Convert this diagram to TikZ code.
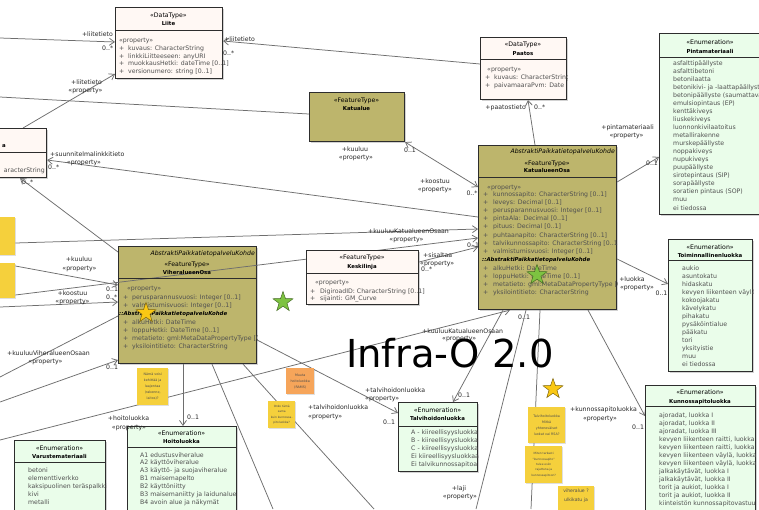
\documentclass[tikz,border=0pt]{standalone}
\usepackage{fontspec}
\setmainfont{DejaVu Sans}
\usetikzlibrary{arrows.meta,shapes.geometric,shadows,calc}
\pgfdeclarelayer{back}
\pgfdeclarelayer{bg}
\pgfsetlayers{back,bg,main}
\definecolor{boxline}{RGB}{45,45,45}
\definecolor{dtfill}{RGB}{255,248,244}
\definecolor{olivefill}{RGB}{189,181,108}
\definecolor{enumfill}{RGB}{234,253,234}
\definecolor{linegray}{RGB}{110,110,110}
\definecolor{noteyellow}{RGB}{245,208,60}
\definecolor{noteorange}{RGB}{246,165,90}
\definecolor{attrgray}{RGB}{80,80,80}
\definecolor{staryellow}{RGB}{250,200,20}
\definecolor{stargreen}{RGB}{125,195,65}
\newcommand{\enumitems}[5]{\foreach \t [count=\i from 0] in {#5} {\node[attr] (#1\i) at (#2,#3+#4*\i) {\t};}}
\tikzset{
 umlbox/.style={draw=boxline, line width=1.1pt, anchor=north west, inner sep=0pt, drop shadow={shadow xshift=1.3pt, shadow yshift=-1.3pt, opacity=0.35}},
 dtbox/.style={umlbox, fill=dtfill},
 ftbox/.style={umlbox, fill=olivefill},
 enbox/.style={umlbox, fill=enumfill},
 divider/.style={draw=boxline, line width=0.8pt},
 sttext/.style={font=\fontsize{6.2}{7}\selectfont, inner sep=0pt, anchor=base, text=black},
 nmtext/.style={font=\fontsize{5.4}{7}\selectfont\bfseries, inner sep=0pt, anchor=base, text=black},
 attr/.style={font=\fontsize{6.2}{7}\selectfont, inner sep=0pt, anchor=base west, text=attrgray},
 attrhead/.style={font=\fontsize{5.4}{7}\selectfont\bfseries\itshape, inner sep=0pt, anchor=base west, text=black},
 abstr/.style={font=\fontsize{6.2}{7}\selectfont\itshape, inner sep=0pt, anchor=base east, text=black},
 conn/.style={draw=linegray, line width=0.75pt},
 arr/.style={arrows={-Straight Barb[length=5pt,width=7pt]}},
 biarr/.style={arrows={Straight Barb[length=5pt,width=7pt]-Straight Barb[length=5pt,width=7pt]}},
 lbl/.style={font=\fontsize{6.2}{7}\selectfont, inner sep=0pt, anchor=base, text=black!85},
 notebox/.style={anchor=north west, inner sep=0pt, drop shadow={shadow xshift=1pt, shadow yshift=-1pt, opacity=0.25}},
 notetxt/.style={font=\fontsize{3.3}{6}\selectfont, align=center, text=black!70, inner sep=0pt},
 starnode/.style={star, star points=5, star point ratio=2.5, minimum size=21pt, inner sep=0pt, line width=0.5pt},
}
\begin{document}
\begin{tikzpicture}[x=1pt,y=-1pt]
\useasboundingbox (0,0) rectangle (759,509);
\begin{pgfonlayer}{back}
\fill[white] (0,0) rectangle (759,509);
\end{pgfonlayer}
\clip (0,0) rectangle (759,509);

% ---------- notes at the left edge
\node[notebox, fill=noteyellow, minimum width=25pt, minimum height=38pt] (noteA) at (-10,217) {};
\node[notebox, fill=noteyellow, minimum width=25pt, minimum height=35pt] (noteB) at (-10,263) {};

% ---------- boxes
\node[ftbox, minimum width=138pt, minimum height=164pt] (katos) at (478,145) {};
\node[ftbox, minimum width=138pt, minimum height=117pt] (viher) at (118,246) {};
\draw[conn,arr] (noteB.east |- 0,295) -- (katos.west |- 0,238);
\node[dtbox, minimum width=107pt, minimum height=71pt] (liite) at (115,7) {};
\node[dtbox, minimum width=86pt, minimum height=62pt] (paatos) at (480,37) {};
\node[ftbox, minimum width=95pt, minimum height=49pt] (katualue) at (309,92) {};
\node[dtbox, minimum width=112pt, minimum height=54pt] (keskilinja) at (306,250) {};
\node[enbox, minimum width=102pt, minimum height=181pt] (pinta) at (659,33) {};
\node[enbox, minimum width=84pt, minimum height=132pt] (toim) at (668,239) {};
\node[enbox, minimum width=110pt, minimum height=140pt] (kunn) at (645,385) {};
\node[enbox, minimum width=79pt, minimum height=69pt] (talvi) at (398,402) {};
\node[enbox, minimum width=109pt, minimum height=100pt] (hoito) at (127,426) {};
\node[enbox, minimum width=91pt, minimum height=90pt] (varuste) at (14,440) {};
\node[dtbox, minimum width=106pt, minimum height=49pt] (leftbox) at (-60,128) {};

% ---------- dividers
\draw[divider] (liite.west |- 0,30) -- (liite.east |- 0,30);
\draw[divider] (paatos.west |- 0,59) -- (paatos.east |- 0,59);
\draw[divider] (keskilinja.west |- 0,273) -- (keskilinja.east |- 0,273);
\draw[divider] (katos.west |- 0,177.3) -- (katos.east |- 0,177.3);
\draw[divider] (viher.west |- 0,278) -- (viher.east |- 0,278);
\draw[divider] (pinta.west |- 0,57) -- (pinta.east |- 0,57);
\draw[divider] (toim.west |- 0,260) -- (toim.east |- 0,260);
\draw[divider] (kunn.west |- 0,406) -- (kunn.east |- 0,406);
\draw[divider] (talvi.west |- 0,426) -- (talvi.east |- 0,426);
\draw[divider] (hoito.west |- 0,447) -- (hoito.east |- 0,447);
\draw[divider] (varuste.west |- 0,462) -- (varuste.east |- 0,462);
\draw[divider] (leftbox.west |- 0,152) -- (leftbox.east |- 0,152);

% ---------- connectors (behind the boxes)
\begin{pgfonlayer}{bg}
\coordinate (e1) at (0,38);
\coordinate (e2) at (0,97);
\coordinate (e4) at (0,307);
\coordinate (e5) at (0,377);
\coordinate (e6) at (0,402);
\coordinate (e7) at (0,440);
\coordinate (e8) at (476,509);
\coordinate (e9) at (531,509);
\coordinate (e10) at (273,509);
\coordinate (e11) at (374,509);
\draw[conn,arr] (e1) -- (liite.west |- 0,42);
\draw[conn,arr] (paatos.west |- 0,64) -- (liite.east |- 0,41);
\draw[conn,arr] (23,0 |- leftbox.north) -- (liite.west |- 0,74);
\draw[conn] (e2) -- (katualue.west |- 0,114);
\draw[conn,biarr] (katualue.south east) -- (katos.west |- 0,187);
\draw[conn,arr] (535,0 |- katos.north) -- (528,0 |- paatos.south);
\draw[conn,arr] (katos.east |- 0,182) -- (pinta.west |- 0,157);
\draw[conn,arr] (katos.east |- 0,259) -- (toim.west |- 0,284);
\draw[conn,arr] (katos.west |- 0,217) -- (leftbox.east |- 0,160);
\draw[conn,arr] (viher.west |- 0,252) -- (20,0 |- leftbox.south);
\draw[conn,arr] (noteA.east |- 0,243) -- (katos.west |- 0,229);
\draw[conn,arr] (noteB.east |- 0,266) -- (viher.west |- 0,285);
\draw[conn,arr] (e4) -- (viher.west |- 0,302);
\draw[conn,arr] (keskilinja.east |- 0,262) -- (katos.west |- 0,247);
\draw[conn] (e5) -- (viher.west |- 0,316);
\draw[conn,arr] (e6) -- (viher.west |- 0,360);
\draw[conn,arr] (e7) -- (510,0 |- katos.south);
\draw[conn,arr] (183,0 |- viher.south) -- (183,0 |- hoito.north);
\draw[conn,arr] (viher.east |- 0,340) -- (talvi.west |- 0,413);
\draw[conn,arr] (503,0 |- katos.south) -- (453,0 |- talvi.north);
\draw[conn] (526,0 |- katos.south) -- (e8);
\draw[conn] (540,0 |- katos.south) -- (e9);
\draw[conn,arr] (588,0 |- katos.south) -- (kunn.west |- 0,416);
\draw[conn] (212,0 |- viher.south) -- (e10);
\draw[conn] (243,0 |- viher.south) -- (e11);
\end{pgfonlayer}

% ---------- connector labels
\node[lbl,anchor=base east] (la1) at (113,36) {+liitetieto};
\node[lbl,anchor=base west] (la2) at (102,50.5) {0..*};
\node[lbl,anchor=base west] (la3) at (224,41) {+liitetieto};
\node[lbl,anchor=base west] (la4) at (223,55) {0..*};
\node[lbl] (la5) at (86.5,84) {+liitetieto};
\node[lbl] (la6) at (85.5,92) {«property»};
\node[lbl] (la7) at (355,151.5) {+kuuluu};
\node[lbl] (la8) at (356,159.5) {«property»};
\node[lbl] (la9) at (410,152.5) {0..1};
\node[lbl] (la10) at (435,183.5) {+koostuu};
\node[lbl] (la11) at (435,191.5) {«property»};
\node[lbl] (la12) at (472,195.5) {0..*};
\node[lbl,anchor=base east] (la13) at (526,109.5) {+paatostieto};
\node[lbl,anchor=base west] (la14) at (534,109.5) {0..*};
\node[lbl] (la15) at (627.5,129.5) {+pintamateriaali};
\node[lbl] (la16) at (626.5,137.5) {«property»};
\node[lbl] (la17) at (652,165.5) {0..1};
\node[lbl] (la18) at (632,281) {+luokka};
\node[lbl] (la19) at (637,289.5) {«property»};
\node[lbl] (la20) at (661.5,295) {0..1};
\node[lbl,anchor=base west] (la21) at (50,156.5) {+suunnitelmalinkkitieto};
\node[lbl] (la22) at (84,164.5) {«property»};
\node[lbl,anchor=base west] (la23) at (48,169) {0..*};
\node[lbl,anchor=base west] (la24) at (22,184.5) {0..*};
\node[lbl] (la25) at (408.5,233.5) {+kuuluuKatualueenOsaan};
\node[lbl] (la26) at (406.5,241.5) {«property»};
\node[lbl] (la27) at (79,261.5) {+kuuluu};
\node[lbl] (la28) at (79.5,270) {«property»};
\node[lbl,anchor=base west] (la29) at (106,291.5) {0..1};
\node[lbl,anchor=base west] (la30) at (106,299.5) {0..*};
\node[lbl,anchor=base west] (la31) at (467,247.5) {0..1};
\node[lbl] (la32) at (72.5,295.5) {+koostuu};
\node[lbl] (la33) at (72.5,303.5) {«property»};
\node[lbl,anchor=base west] (la34) at (423,257.5) {+sisaltaa};
\node[lbl,anchor=base west] (la35) at (420,265.5) {«property»};
\node[lbl,anchor=base west] (la36) at (421,271) {0..*};
\node[lbl] (la37) at (48.5,355) {+kuuluuViheralueenOsaan};
\node[lbl] (la38) at (45.5,363) {«property»};
\node[lbl,anchor=base west] (la39) at (106,369.5) {0..1};
\node[lbl,anchor=base west] (la40) at (422,333.5) {+kuuluuKatualueenOsaan};
\node[lbl,anchor=base west] (la41) at (442,340.5) {«property»};
\node[lbl] (la42) at (128.5,420.5) {+hoitoluokka};
\node[lbl] (la43) at (129,429.5) {«property»};
\node[lbl,anchor=base west] (la44) at (187,419.5) {0..1};
\node[lbl,anchor=base west] (la45) at (365,392.5) {+talvihoidonluokka};
\node[lbl,anchor=base west] (la46) at (365,400.5) {«property»};
\node[lbl,anchor=base west] (la47) at (383,424.5) {0..1};
\node[lbl,anchor=base west] (la48) at (458,397.5) {0..1};
\node[lbl] (la49) at (459,490.5) {+laji};
\node[lbl] (la50) at (460,498.5) {«property»};
\node[lbl,anchor=base west] (la51) at (518,319.5) {0..1};
\node[lbl] (la52) at (603.5,411.5) {+kunnossapitoluokka};
\node[lbl] (la53) at (600,420.5) {«property»};
\node[lbl,anchor=base west] (la54) at (632,429.5) {0..1};
\node[lbl,anchor=base west] (la55) at (308,409.5) {+talvihoidonluokka};
\node[lbl,anchor=base west] (la56) at (308,418.5) {«property»};

% ---------- Liite
\node[sttext] (liitest) at (168.5,17) {«DataType»};
\node[nmtext] (liitenm) at (168.5,25) {Liite};
\node[attr] (liitepr) at (119,42.5) {«property»};
\foreach \t [count=\i from 0] in {kuvaus: CharacterString, linkkiLiitteeseen: anyURI, muokkausHetki: dateTime [0..1], versionumero: string [0..1]}{
  \node[attr] (liitep\i) at (119,50.3+7.8*\i) {+};
  \node[attr] (liitea\i) at (128,50.3+7.8*\i) {\t};
}

% ---------- Paatos
\begin{scope}
\clip (paatos.north west) rectangle (paatos.south east);
\node[sttext] (paatosst) at (523,46.5) {«DataType»};
\node[nmtext] (paatosnm) at (523,55) {Paatos};
\node[attr] (paatospr) at (487,71.5) {«property»};
\node[attr] (paatosp0) at (485,79) {+};
\node[attr] (paatosa0) at (494,79) {kuvaus: CharacterString};
\node[attr] (paatosp1) at (485,87) {+};
\node[attr] (paatosa1) at (494,87) {paivamaaraPvm: Date};
\end{scope}

% ---------- Katualue
\node[sttext] (katualuest) at (356.5,102.5) {«FeatureType»};
\node[nmtext] (katualuenm) at (356.5,110) {Katualue};

% ---------- Keskilinja
\node[sttext] (keskst) at (362,259.5) {«FeatureType»};
\node[nmtext] (kesknm) at (362,268.5) {Keskilinja};
\node[attr] (keskpr) at (315,284.5) {«property»};
\node[attr] (keskp0) at (310,293) {+};
\node[attr] (keska0) at (320,293) {DigiroadID: CharacterString [0..1]};
\node[attr] (keskp1) at (310,300.5) {+};
\node[attr] (keska1) at (320,300.5) {sijainti: GM\_Curve};

% ---------- KatualueenOsa
\begin{scope}
\clip (katos.north west) rectangle (katos.south east);
\node[abstr] (katosab) at (615,153) {AbstraktiPaikkatietopalveluKohde};
\node[sttext] (katosst) at (547,165) {«FeatureType»};
\node[nmtext] (katosnm) at (547,172.5) {KatualueenOsa};
\node[attr] (katospr) at (487,189) {«property»};
\foreach \t [count=\i from 0] in {kunnossapito: CharacterString [0..1], leveys: Decimal [0..1], perusparannusvuosi: Integer [0..1], pintaAla: Decimal [0..1], pituus: Decimal [0..1], puhtaanapito: CharacterString [0..1], talvikunnossapito: CharacterString [0..1], valmistumisvuosi: Integer [0..1]}{
  \node[attr] (katosp\i) at (483,196.5+8.1*\i) {+};
  \node[attr] (katosa\i) at (493,196.5+8.1*\i) {\t};
}
\node[attrhead] (katosih) at (482,261.5) {::AbstraktiPaikkatietopalveluKohde};
\foreach \t [count=\i from 0] in {alkuHetki: DateTime, loppuHetki: DateTime [0..1], metatieto: gml:MetaDataPropertyType [0..1], yksilointitieto: CharacterString}{
  \node[attr] (katosq\i) at (483,270.5+8.1*\i) {+};
  \node[attr] (katosb\i) at (493,270.5+8.1*\i) {\t};
}
\end{scope}

% ---------- ViheralueenOsa
\begin{scope}
\clip (viher.north west) rectangle (viher.south east);
\node[abstr] (viherab) at (255,255) {AbstraktiPaikkatietopalveluKohde};
\node[sttext] (viherst) at (187,266.5) {«FeatureType»};
\node[nmtext] (vihernm) at (187,274) {ViheralueenOsa};
\node[attr] (viherpr) at (127,290.5) {«property»};
\foreach \t [count=\i from 0] in {perusparannusvuosi: Integer [0..1], valmistumisvuosi: Integer [0..1]}{
  \node[attr] (viherp\i) at (123,299+8*\i) {+};
  \node[attr] (vihera\i) at (132,299+8*\i) {\t};
}
\node[attrhead] (viherih) at (119,315) {::AbstraktiPaikkatietopalveluKohde};
\foreach \t [count=\i from 0] in {alkuHetki: DateTime, loppuHetki: DateTime [0..1], metatieto: gml:MetaDataPropertyType [0..1], yksilointitieto: CharacterString}{
  \node[attr] (viherq\i) at (123,324+8.3*\i) {+};
  \node[attr] (viherb\i) at (132,324+8.3*\i) {\t};
}
\end{scope}

% ---------- Pintamateriaali
\begin{scope}
\clip (pinta.north west) rectangle (pinta.south east);
\node[sttext] (pintast) at (710,44.5) {«Enumeration»};
\node[nmtext] (pintanm) at (710,53) {Pintamateriaali};
\enumitems{pintai}{673}{65.3}{8.04}{{asfalttipäällyste},{asfalttibetoni},{betonilaatta},{betonikivi- ja -laattapäällyste},{betonipäällyste (saumattavat)},{emulsiopintaus (EP)},{kenttäkiveys},{liuskekiveys},{luonnonkivilaatoitus},{metallirakenne},{murskepäällyste},{noppakiveys},{nupukiveys},{puupäällyste},{sirotepintaus (SIP)},{sorapäällyste},{soratien pintaus (SOP)},{muu},{ei tiedossa}}
\end{scope}

% ---------- Toiminnallinenluokka
\begin{scope}
\clip (toim.north west) rectangle (toim.south east);
\node[sttext] (toimst) at (710,249.5) {«Enumeration»};
\node[nmtext] (toimnm) at (710,257.5) {Toiminnallinenluokka};
\enumitems{toimi}{682}{270.3}{8}{{aukio},{asuntokatu},{hidaskatu},{kevyen liikenteen väylä},{kokoojakatu},{kävelykatu},{pihakatu},{pysäköintialue},{pääkatu},{tori},{yksityistie},{muu},{ei tiedossa}}
\end{scope}

% ---------- Kunnossapitoluokka
\begin{scope}
\clip (kunn.north west) rectangle (kunn.south east);
\node[sttext] (kunnst) at (700,394.5) {«Enumeration»};
\node[nmtext] (kunnnm) at (700,403) {Kunnossapitoluokka};
\enumitems{kunni}{659}{417.3}{8}{{ajoradat, luokka I},{ajoradat, luokka II},{ajoradat, luokka III},{kevyen liikenteen raitti, luokka I},{kevyen liikenteen raitti, luokka II},{kevyen liikenteen väylä, luokka I},{kevyen liikenteen väylä, luokka II},{jalkakäytävät, luokka I},{jalkakäytävät, luokka II},{torit ja aukiot, luokka I},{torit ja aukiot, luokka II},{kiinteistön kunnossapitovastuu}}
\end{scope}

% ---------- Talvihoidonluokka
\begin{scope}
\clip (talvi.north west) rectangle (talvi.south east);
\node[sttext] (talvist) at (437.5,412.5) {«Enumeration»};
\node[nmtext] (talvinm) at (437.5,420.5) {Talvihoidonluokka};
\enumitems{talvii}{411}{434}{8}{{A - kiireellisyysluokka},{B - kiireellisyysluokka},{C - kiireellisyysluokka},{Ei kiireellisyysluokkaa},{Ei talvikunnossapitoa}}
\end{scope}

% ---------- Hoitoluokka
\begin{scope}
\clip (hoito.north west) rectangle (hoito.south east);
\node[sttext] (hoitost) at (181.5,435.5) {«Enumeration»};
\node[nmtext] (hoitonm) at (181.5,443.5) {Hoitoluokka};
\enumitems{hoitoi}{140}{457}{7.85}{{A1 edustusviheralue},{A2 käyttöviheralue},{A3 käyttö- ja suojaviheralue},{B1 maisemapelto},{B2 käyttöniitty},{B3 maisemaniitty ja laidunalue},{B4 avoin alue ja näkymät}}
\end{scope}

% ---------- Varustemateriaali
\begin{scope}
\clip (varuste.north west) rectangle (varuste.south east);
\node[sttext] (varst) at (59.5,450.5) {«Enumeration»};
\node[nmtext] (varnm) at (59.5,458.5) {Varustemateriaali};
\enumitems{vari}{28}{472}{8}{{betoni},{elementtiverkko},{kaksipuolinen teräspalkki},{kivi},{metalli}}
\end{scope}

% ---------- left partial box
\node[nmtext,anchor=base east] (leftnm) at (6,147.5) {a};
\node[attr,anchor=base east] (lefta) at (45,172) {aracterString};

% ---------- notes
\node[notebox, fill=noteyellow, minimum width=31pt, minimum height=37pt] (n1) at (137,368) {};
\node[notetxt] (n1t) at (n1.center) {Nämä voisi\\kehittää ja\\laajentaa\\(rakenne,\\laitos)?};
\node[notebox, fill=noteorange, minimum width=28pt, minimum height=26pt] (n2) at (286,368) {};
\node[notetxt] (n2t) at (n2.center) {Muuta\\hoitoluokka\\(RAMS)};
\node[notebox, fill=noteyellow, minimum width=27pt, minimum height=27pt] (n3) at (268,401) {};
\node[notetxt,font=\fontsize{2.9}{5.6}\selectfont] (n3t) at (n3.center) {Onko tämä\\sama\\kuin kunnossa-\\pitoluokka?};
\node[notebox, fill=noteyellow, minimum width=37pt, minimum height=36pt] (n4) at (528,407) {};
\node[notetxt] (n4t) at (n4.center) {Talvihoitoluokka\\Mitkä\\yhteneväiset\\luokat vai RSA?};
\node[notebox, fill=noteyellow, minimum width=37pt, minimum height=37pt] (n5) at (525,446) {};
\node[notetxt,font=\fontsize{2.9}{5.4}\selectfont] (n5t) at (n5.center) {Miten tarkasti\\"kunnossapito"\\tulee esiin\\rajattuna ja\\kunnossapitoon?};
\node[notebox, fill=noteyellow, minimum width=36pt, minimum height=30pt] (n6) at (558,486) {};
\node[notetxt,font=\fontsize{4.6}{9}\selectfont,anchor=north] (n6t) at (576,489) {viheralue ?\\ulkikatu ja};

% ---------- stars
\node[starnode, fill=staryellow, draw=black!50!staryellow] (s1) at (146,313) {};
\node[starnode, fill=stargreen, draw=black!45!stargreen] (s2) at (283,302) {};
\node[starnode, fill=stargreen, draw=black!45!stargreen] (s3) at (537,275) {};
\node[starnode, fill=staryellow, draw=black!50!staryellow] (s4) at (553,389) {};

% ---------- title
\node[font=\fontsize{38.5}{40}\selectfont, anchor=base west, inner sep=0pt] (title) at (346,367) {Infra-O 2.0};
\end{tikzpicture}
\end{document}
